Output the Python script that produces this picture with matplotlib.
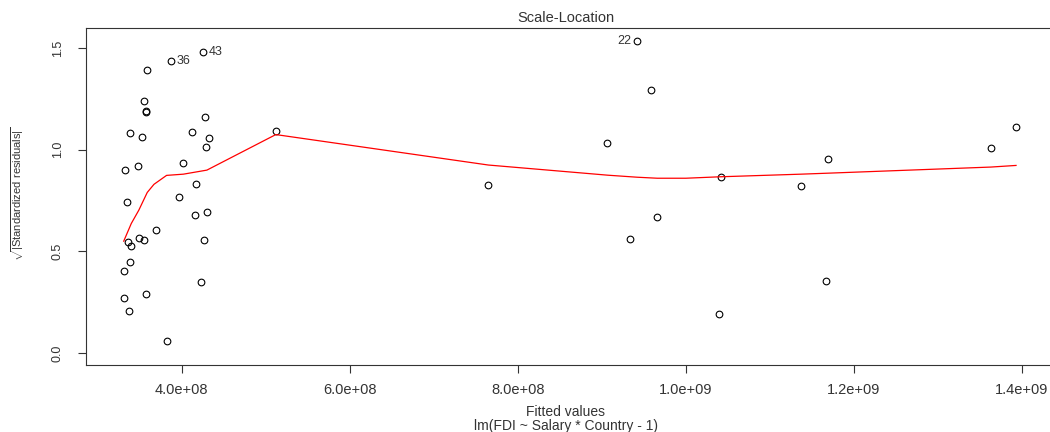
import numpy as np
import matplotlib
matplotlib.use("Agg")
import matplotlib.pyplot as plt

plt.rcParams['font.family'] = ['Liberation Sans', 'DejaVu Sans']
plt.rcParams['mathtext.fontset'] = 'custom'
plt.rcParams['mathtext.rm'] = 'Liberation Sans'

# fitted values (x) and sqrt(|standardized residuals|) (y)
fitted = [4.25e8, 3.87e8, 3.59e8, 3.55e8, 3.57e8, 3.58e8, 4.28e8, 3.39e8, 4.12e8,
          3.53e8, 4.32e8, 4.29e8, 4.02e8, 3.33e8, 3.48e8, 4.17e8, 3.97e8, 3.35e8,
          4.16e8, 4.30e8, 3.69e8, 3.49e8, 3.55e8, 3.36e8, 3.40e8, 4.26e8, 3.39e8,
          3.31e8, 4.23e8, 3.58e8, 3.31e8, 3.37e8, 3.82e8, 5.12e8,
          9.42e8, 9.59e8, 9.065e8, 7.65e8, 1.0414e9, 9.66e8, 9.33e8, 1.040e9,
          1.1696e9, 1.1367e9, 1.1672e9, 1.363e9, 1.393e9]
sqrt_res = [1.48, 1.435, 1.394, 1.238, 1.19, 1.185, 1.16, 1.082, 1.089,
            1.063, 1.056, 1.015, 0.936, 0.901, 0.92, 0.831, 0.768, 0.741,
            0.677, 0.693, 0.606, 0.568, 0.557, 0.544, 0.526, 0.554, 0.445,
            0.401, 0.35, 0.288, 0.268, 0.204, 0.056, 1.092,
            1.537, 1.296, 1.034, 0.826, 0.864, 0.67, 0.56, 0.189,
            0.953, 0.823, 0.353, 1.01, 1.113]

# labelled observations: (index into the arrays above, label, side)
labelled = [(0, "43", "right"), (1, "36", "right"), (34, "22", "left")]

# smoother (red line) vertices
smooth_x = [3.31e8, 3.40e8, 3.49e8, 3.59e8, 3.67e8, 3.82e8, 4.02e8, 4.30e8, 5.12e8,
            7.65e8, 9.07e8, 9.42e8, 9.66e8, 1.0e9, 1.04e9, 1.137e9, 1.17e9, 1.363e9, 1.393e9]
smooth_y = [0.55, 0.637, 0.703, 0.79, 0.83, 0.874, 0.88, 0.90, 1.075,
            0.925, 0.875, 0.865, 0.86, 0.86, 0.867, 0.88, 0.885, 0.915, 0.923]

fig = plt.figure(figsize=(10.5, 4.32), dpi=100)
ax = fig.add_axes([86/1050, 1 - 365/432, (1053 - 86)/1050, (365 - 28)/432])

ax.plot(fitted, sqrt_res, 'o', mfc='none', mec='black', ms=4.8, mew=0.8)
ax.plot(smooth_x, smooth_y, color='red', lw=0.9)

for i, lab, side in labelled:
    if side == "right":
        ax.annotate(lab, (fitted[i], sqrt_res[i]), xytext=(4, 0), textcoords='offset points',
                    ha='left', va='center', fontsize=9, color='#333333')
    else:
        ax.annotate(lab, (fitted[i], sqrt_res[i]), xytext=(-4, 0), textcoords='offset points',
                    ha='right', va='center', fontsize=9, color='#333333')

ax.set_xlim(2.861e8, 14.37e8)
ax.set_ylim(-0.06, 1.6)

xt = [4e8, 6e8, 8e8, 1e9, 1.2e9, 1.4e9]
ax.set_xticks(xt)
ax.set_xticklabels(["4.0e+08", "6.0e+08", "8.0e+08", "1.0e+09", "1.2e+09", "1.4e+09"])
ax.set_yticks([0.0, 0.5, 1.0, 1.5])
ax.set_yticklabels(["0.0", "0.5", "1.0", "1.5"], rotation=90, va='center')
ax.tick_params(axis='x', direction='out', length=6, width=0.8, labelsize=10.5, pad=7)
ax.tick_params(axis='y', direction='out', length=6, width=0.8, labelsize=9, pad=10)
for s in ax.spines.values():
    s.set_linewidth(0.8)
    s.set_color('#333333')
ax.tick_params(colors='#333333')

fig.text(566/1050, 1 - 18/432, "Scale-Location", ha='center', va='center', fontsize=10.5, color='#333333')
fig.text(566/1050, 1 - 412/432, "Fitted values", ha='center', va='center', fontsize=10, color='#333333')
fig.text(566/1050, 1 - 426/432, "lm(FDI ~ Salary * Country - 1)", ha='center', va='center', fontsize=10, color='#333333')
fig.text(18/1050, 1 - 194/432, r'$\sqrt{|\mathrm{Standardized\ residuals}|}$',
         rotation=90, ha='center', va='center', fontsize=8, color='#333333')

fig.savefig("out.png", dpi=100)
